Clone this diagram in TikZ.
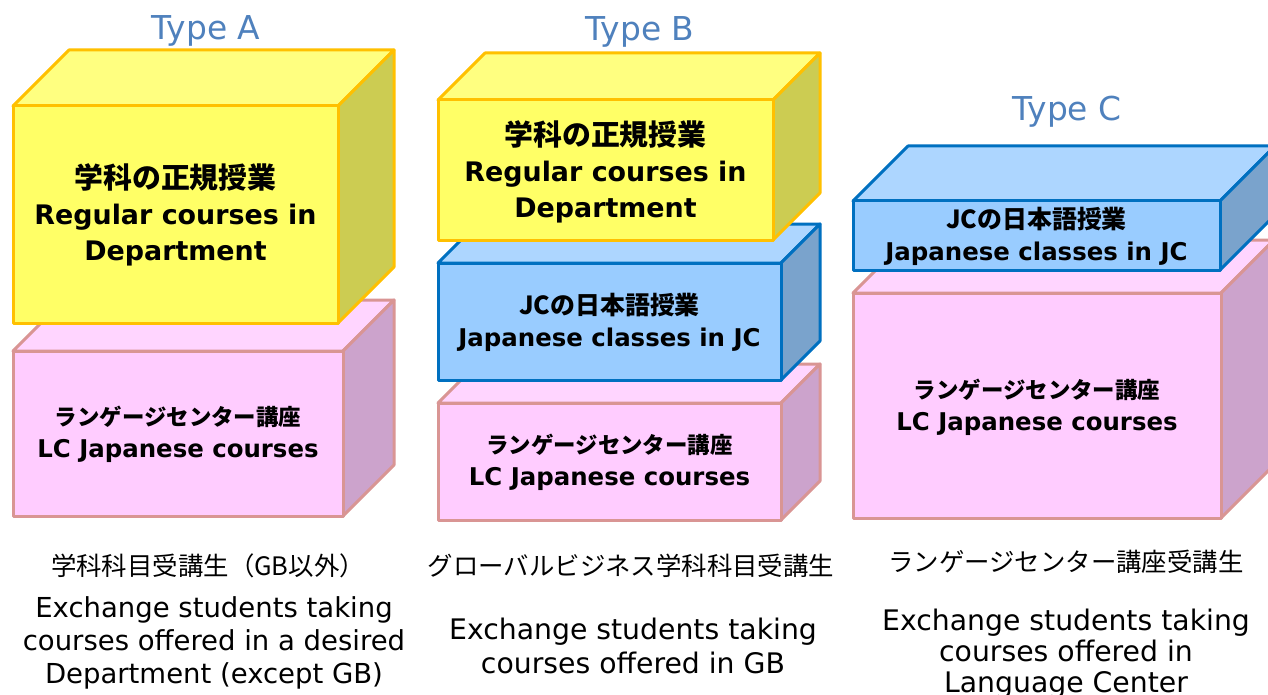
\documentclass[tikz,border=0pt]{standalone}
\usepackage{fontspec}
\setmainfont{DejaVu Sans}
\newfontfamily\jp{Noto Sans CJK JP}
\definecolor{yfront}{HTML}{FFFF66}
\definecolor{ytop}{HTML}{FFFF80}
\definecolor{yside}{HTML}{CCCC52}
\definecolor{yline}{HTML}{FFC000}
\definecolor{pfront}{HTML}{FFCCFF}
\definecolor{ptop}{HTML}{FFD5FF}
\definecolor{pside}{HTML}{CCA3CC}
\definecolor{pline}{HTML}{D99594}
\definecolor{bfront}{HTML}{99CCFF}
\definecolor{btop}{HTML}{ADD6FF}
\definecolor{bside}{HTML}{7AA3CC}
\definecolor{bline}{HTML}{0070C0}
\definecolor{typeblue}{HTML}{4F81BD}
% #1 x1, #2 y1, #3 x2, #4 y2, #5 depth, #6 colour prefix (y/p/b)
\newcommand\cuboidbox[6]{%
  \filldraw[facestyle, fill=#6top, draw=#6line] (#1,#2) -- (#1+#5,#2-#5) -- (#3+#5,#2-#5) -- (#3,#2) -- cycle;
  \filldraw[facestyle, fill=#6side, draw=#6line] (#3,#2) -- (#3+#5,#2-#5) -- (#3+#5,#4-#5) -- (#3,#4) -- cycle;
  \filldraw[facestyle, fill=#6front, draw=#6line] (#1,#2) rectangle (#3,#4);
}
\tikzset{
  facestyle/.style={line width=3bp, line join=round},
  typelabel/.style={text=typeblue, font=\fontsize{33}{38}\selectfont, inner sep=0pt},
  bigtext/.style={align=center, inner sep=0pt, font=\bfseries\fontsize{27}{36}\selectfont},
  smalltext/.style={align=center, inner sep=0pt, font=\bfseries\fontsize{24.5}{32}\selectfont},
  capjp/.style={inner sep=0pt, font=\jp\fontsize{25.5}{30}\selectfont},
  capA/.style={align=center, inner sep=0pt, font=\fontsize{27.6}{33.5}\selectfont},
  capB/.style={align=center, inner sep=0pt, font=\fontsize{28.4}{34}\selectfont},
  capC/.style={align=center, inner sep=0pt, font=\fontsize{28.4}{31}\selectfont},
}
\newcommand\jpbig{\jp\bfseries\fontsize{29}{36}\selectfont}
\newcommand\jpsmall{\jp\bfseries\fontsize{22.5}{32}\selectfont}
\newcommand\jpmid{\jp\bfseries\fontsize{25}{32}\selectfont}
\begin{document}
\begin{tikzpicture}[x=1bp, y=-1bp]
\useasboundingbox (0,0) rectangle (1268,695);
\clip (0,0) rectangle (1268,695);
\fill[white] (0,0) rectangle (1268,695);

% ---- Type A ----
\node[typelabel] (ta) at (206,31) {Type A};
\cuboidbox{13}{351}{343}{516}{51}{p}
\cuboidbox{13}{106}{338}{323}{56}{y}
\node[bigtext] (ay) at (175.5,214.5) {{\jpbig 学科の正規授業}\\Regular courses in\\Department};
\node[smalltext] (ap) at (178,434) {{\jpsmall ランゲージセンター講座}\\LC Japanese courses};
\node[capjp] (acj) at (208,566) {学科科目受講生（GB以外）};
\node[capA] (ace) at (214,643) {Exchange students taking\\courses offered in a desired\\Department (except GB)};

% ---- Type B ----
\node[typelabel] (tb) at (640,32) {Type B};
\cuboidbox{438}{403}{781}{520}{39}{p}
\cuboidbox{438}{263}{781}{380}{39}{b}
\cuboidbox{438}{100}{773}{240}{47}{y}
\node[bigtext] (by) at (605.5,172) {{\jpbig 学科の正規授業}\\Regular courses in\\Department};
\node[smalltext] (bb) at (609.5,322) {{\jpmid JCの日本語授業}\\Japanese classes in JC};
\node[smalltext] (bp) at (609.5,462) {{\jpsmall ランゲージセンター講座}\\LC Japanese courses};
\node[capjp] (bcj) at (631,566) {グローバルビジネス学科科目受講生};
\node[capB] (bce) at (633,646) {Exchange students taking\\courses offered in GB};

% ---- Type C ----
\node[typelabel] (tc) at (1067,112) {Type C};
\cuboidbox{853}{293}{1221}{518}{53}{p}
\cuboidbox{853}{201}{1220}{270}{55}{b}
\node[smalltext] (cb) at (1036.5,236) {{\jpmid JCの日本語授業}\\Japanese classes in JC};
\node[smalltext] (cp) at (1037,407) {{\jpsmall ランゲージセンター講座}\\LC Japanese courses};
\node[capjp] (ccj) at (1066,562) {ランゲージセンター講座受講生};
\node[capC] (cce) at (1066,654) {Exchange students taking\\courses offered in\\Language Center};
\end{tikzpicture}
\end{document}
